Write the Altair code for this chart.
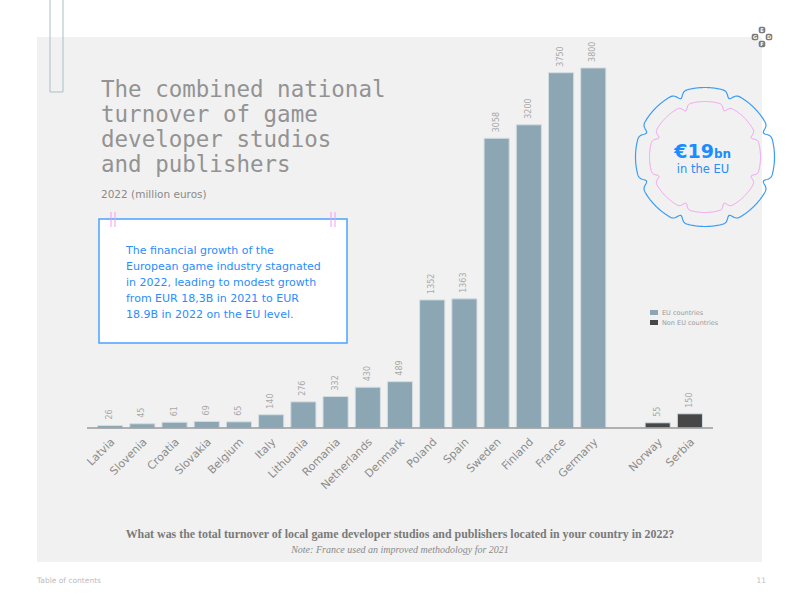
import numpy as np
import pandas as pd
import altair as alt

# Turnover of game developer studios and publishers, 2022 (million euros)
countries = ["Latvia", "Slovenia", "Croatia", "Slovakia", "Belgium", "Italy",
             "Lithuania", "Romania", "Netherlands", "Denmark", "Poland", "Spain",
             "Sweden", "Finland", "France", "Germany", "Norway", "Serbia"]
turnover = [26, 45, 61, 69, 65, 140, 276, 332, 430, 489, 1352, 1363,
            3058, 3200, 3750, 3800, 55, 150]
groups = ["EU countries"] * 16 + ["Non EU countries"] * 2
group_names = ["EU countries", "Non EU countries"]
group_colors = ["#8ca6b4", "#474747"]

title_lines = ["The combined national", "turnover of game",
               "developer studios", "and publishers"]
subtitle = "2022 (million euros)"
box_lines = ["The financial growth of the",
             "European game industry stagnated",
             "in 2022, leading to modest growth",
             "from EUR 18,3B in 2021 to EUR",
             "18.9B in 2022 on the EU level."]
question = ("What was the total turnover of local game developer studios "
            "and publishers located in your country in 2022?")
note = "Note: France used an improved methodology for 2021"
logo_letters = ["E", "G", "D", "F"]

SPACER = " "  # empty slot separating EU and non-EU countries
x_order = countries[:16] + [SPACER] + countries[16:]

df = pd.DataFrame({"country": countries, "turnover": turnover, "group": groups})

# plot-area geometry inside the 800x600 page
LEFT, TOP, W, H = 94, 49, 612, 379
FONT = "DejaVu Sans"
one = pd.DataFrame({"k": [0]})


def px(x):
    return x - LEFT


def py(y):
    return y - TOP


def box_mark(x0, y0, x1, y1, **style):
    return alt.Chart(one).mark_rect(**style).encode(
        x=alt.value(px(x0)), x2=alt.value(px(x1)),
        y=alt.value(py(y0)), y2=alt.value(py(y1)))


def label(text, x, y, **style):
    return alt.Chart(one).mark_text(text=text, **style).encode(
        x=alt.value(px(x)), y=alt.value(py(y)))


def vrule(x, y0, y1, **style):
    return alt.Chart(one).mark_rule(**style).encode(
        x=alt.value(px(x)), y=alt.value(py(y0)), y2=alt.value(py(y1)))


def symbol(x, y, **style):
    return alt.Chart(one).mark_point(**style).encode(
        x=alt.value(px(x)), y=alt.value(py(y)))


def badge_path(n, depth, width, phase, steps=720):
    th = np.linspace(0, 2 * np.pi, steps, endpoint=False)
    seg = 2 * np.pi / n
    d = ((th - phase + seg / 2) % seg) - seg / 2
    r = 1 - depth * np.exp(-(d / width) ** 2)
    xs, ys = r * np.cos(th), -r * np.sin(th)
    pts = " L".join(f"{a:.4f} {b:.4f}" for a, b in zip(xs, ys))
    return "M" + pts + " Z"


xscale = alt.Scale(domain=x_order, paddingInner=0.22, paddingOuter=0.11)
yscale = alt.Scale(domain=[0, 4000])
cscale = alt.Scale(domain=group_names, range=group_colors)

panel = box_mark(37, 37, 762, 562, color="#f1f1f1")
tab = box_mark(50, -2, 63, 92, fill="transparent", stroke="#a9bec8", strokeWidth=1)

bars = alt.Chart(df).mark_bar(stroke="#d3dde2", strokeWidth=1).encode(
    x=alt.X("country:N", scale=xscale, sort=x_order,
            axis=alt.Axis(title=None, domain=False, ticks=False, labelAngle=315,
                          labelFont=FONT, labelFontSize=11, labelColor="#8c8c8c",
                          labelPadding=12, labelOffset=3, labelAlign="right",
                          labelBaseline="middle", zindex=2)),
    y=alt.Y("turnover:Q", scale=yscale, axis=None),
    color=alt.Color("group:N", scale=cscale, legend=None))

values = alt.Chart(df).mark_text(angle=270, align="left", baseline="middle", dx=6,
                                 font=FONT, fontSize=8, color="#a8a8a8").encode(
    x=alt.X("country:N", scale=xscale, sort=x_order),
    y=alt.Y("turnover:Q", scale=yscale),
    text=alt.Text("turnover:Q"))

baseline = alt.Chart(one).mark_rule(color="#9a9a9a", strokeWidth=1.5).encode(
    x=alt.value(px(87)), x2=alt.value(px(713)), y=alt.value(H))

title = label(title_lines, 101, 96.5, align="left", baseline="alphabetic",
              font="DejaVu Sans Mono", fontSize=22.5, lineHeight=25, color="#939393")
sub = label(subtitle, 101, 195, align="left", font=FONT, fontSize=10.5, color="#8a8a8a")

note_box = box_mark(99, 219, 347, 343, fill="white", stroke="#4aa3ff", strokeWidth=1.5)
clips = [vrule(cx, 212, 227, color="#f59cf0", strokeWidth=1) for cx in (111, 115, 331, 335)]
box_text = label(box_lines, 126, 254, align="left", baseline="alphabetic", font=FONT,
                 fontSize=11, lineHeight=16, color="#2a8cff")

legend_layers = []
for name, col, ly in zip(group_names, group_colors, [312.5, 322.5]):
    legend_layers.append(box_mark(650, ly - 2.5, 658, ly + 2.5, color=col))
    legend_layers.append(label(name, 662, ly, align="left", baseline="middle", font=FONT,
                               fontSize=6.5, color="#9a9a9a"))

outer = symbol(705, 157, shape=badge_path(8, 0.09, 0.06, np.pi / 8), size=139 ** 2,
               filled=False, opacity=1, stroke="#3d9df5", strokeWidth=1.2)
inner = symbol(705, 157, shape=badge_path(8, 0.1, 0.06, np.pi / 8), size=111 ** 2,
               filled=False, opacity=1, stroke="#f59cf0", strokeWidth=1)
big = label("€19", 714, 158, align="right", baseline="alphabetic", font=FONT,
            fontSize=19, fontWeight="bold", color="#1a8cff")
bn = label("bn", 714, 158, align="left", baseline="alphabetic", font=FONT,
           fontSize=12, fontWeight="bold", color="#1a8cff")
in_eu = label("in the EU", 703, 173, align="center", baseline="alphabetic", font=FONT,
              fontSize=11.5, color="#2a8cf5")

logo = []
for letter, lx, ly in zip(logo_letters, [762, 755, 769, 762], [30, 37, 37, 44]):
    logo.append(box_mark(lx - 3.3, ly - 3.3, lx + 3.3, ly + 3.3, color="#7a7a7a",
                         cornerRadius=2))
    logo.append(label(letter, lx, ly, align="center", baseline="middle", font=FONT,
                      fontSize=5, fontWeight="bold", color="white"))

q = label(question, 400, 538, align="center", baseline="alphabetic",
          font="Liberation Serif", fontSize=11.9, fontWeight="bold", color="#7a7a7a")
n = label(note, 400, 553, align="center", baseline="alphabetic",
          font="Liberation Serif", fontSize=10, fontStyle="italic", color="#8a8a8a")

toc = label("Table of contents", 37, 581, align="left", baseline="middle", font=FONT,
            fontSize=7.5, color="#bdbdbd")
page = label("11", 766, 581, align="right", baseline="middle", font=FONT,
             fontSize=7.5, color="#bdbdbd")

chart = alt.layer(
    panel, tab, bars, values, baseline, title, sub, note_box, *clips, box_text,
    *legend_layers, outer, inner, big, bn, in_eu, *logo, q, n, toc, page
).properties(
    width=W, height=H,
    autosize=alt.AutoSizeParams(type="none"),
    padding={"left": LEFT, "top": TOP, "right": 800 - LEFT - W, "bottom": 600 - TOP - H},
    background="white",
).configure_view(stroke=None)

chart.save("out.html", embed_options={"renderer": "svg", "actions": False})
